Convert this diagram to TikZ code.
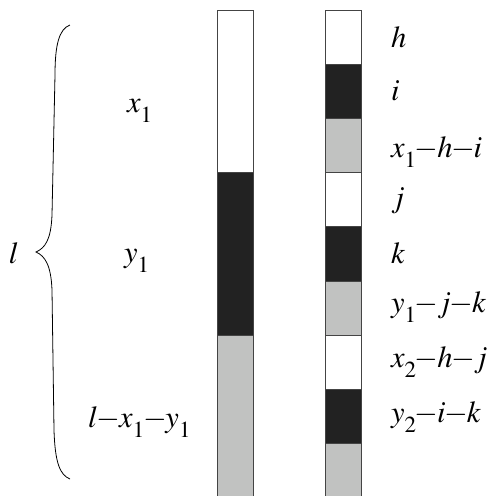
\documentclass[tikz,border=0pt]{standalone}
\usepackage{mathptmx}
\newcommand{\sbs}[1]{\raisebox{-10.5pt}{\fontsize{23}{24}\selectfont$#1$}}
\newcommand{\mns}{\mkern-0.75mu{-}\mkern-0.75mu}
\definecolor{segline}{HTML}{444444}
\definecolor{segblack}{HTML}{222222}
\definecolor{seggray}{HTML}{C1C2C1}
\begin{document}
\begin{tikzpicture}[x=1pt,y=-1pt]
\tikzset{
  seg/.style={draw=segline, line width=0.9pt, minimum width=36pt, inner sep=0pt, outer sep=0pt, anchor=north west},
  wseg/.style={seg, fill=white},
  bseg/.style={seg, fill=segblack},
  gseg/.style={seg, fill=seggray},
  lab/.style={anchor=base west, inner sep=0pt, outer sep=0pt, font=\fontsize{30.5}{34}\selectfont},
  bracestyle/.style={draw=black, line width=0.8pt}
}
\useasboundingbox (0,0) rectangle (487,496);
\clip (0,0) rectangle (487,496);
% left bar
\node[wseg, minimum height=162pt] (a1) at (217,10) {};
\node[bseg, minimum height=163pt] (a2) at (217,172) {};
\node[gseg, minimum height=170pt] (a3) at (217,335) {};
% right bar
\node[wseg, minimum height=54pt] (b1) at (325,10) {};
\node[bseg, minimum height=54pt] (b2) at (325,64) {};
\node[gseg, minimum height=54pt] (b3) at (325,118) {};
\node[wseg, minimum height=54pt] (b4) at (325,172) {};
\node[bseg, minimum height=55pt] (b5) at (325,226) {};
\node[gseg, minimum height=54pt] (b6) at (325,281) {};
\node[wseg, minimum height=54pt] (b7) at (325,335) {};
\node[bseg, minimum height=54pt] (b8) at (325,389) {};
\node[gseg, minimum height=70pt] (b9) at (325,443) {};
% right labels
\node[lab] (lh) at (391,47) {$h$};
\node[lab] (li) at (391,100) {$i$};
\node[lab] (lxhi) at (391,157) {$x\sbs{1}\mns h\mns i$};
\node[lab] (lj) at (391,207) {$j$};
\node[lab] (lk) at (391,263) {$k$};
\node[lab] (lyjk) at (391,312) {$y\sbs{1}\mns j\mns k$};
\node[lab] (lxhj) at (391,367) {$x\sbs{2}\mns h\mns j$};
\node[lab] (lyik) at (391,422) {$y\sbs{2}\mns i\mns k$};
% left labels
\node[lab] (lx1) at (127,112) {$x\sbs{1}$};
\node[lab] (ly1) at (124,262) {$y\sbs{1}$};
\node[lab] (llxy) at (88,427) {$l\mns x\sbs{1}\mns y\sbs{1}$};
\node[lab] (ll) at (9,263) {$l$};
% brace
\coordinate (btop) at (70,25);
\coordinate (btip) at (36,252);
\coordinate (bbot) at (70,479);
\draw[bracestyle] (btop) .. controls (59,29) and (55,45) .. (55,75) -- (52,215)
  .. controls (51,240) and (45,248) .. (btip)
  .. controls (45,256) and (51,265) .. (52,290) -- (54,430)
  .. controls (55,463) and (60,475) .. (bbot);
\end{tikzpicture}
\end{document}
